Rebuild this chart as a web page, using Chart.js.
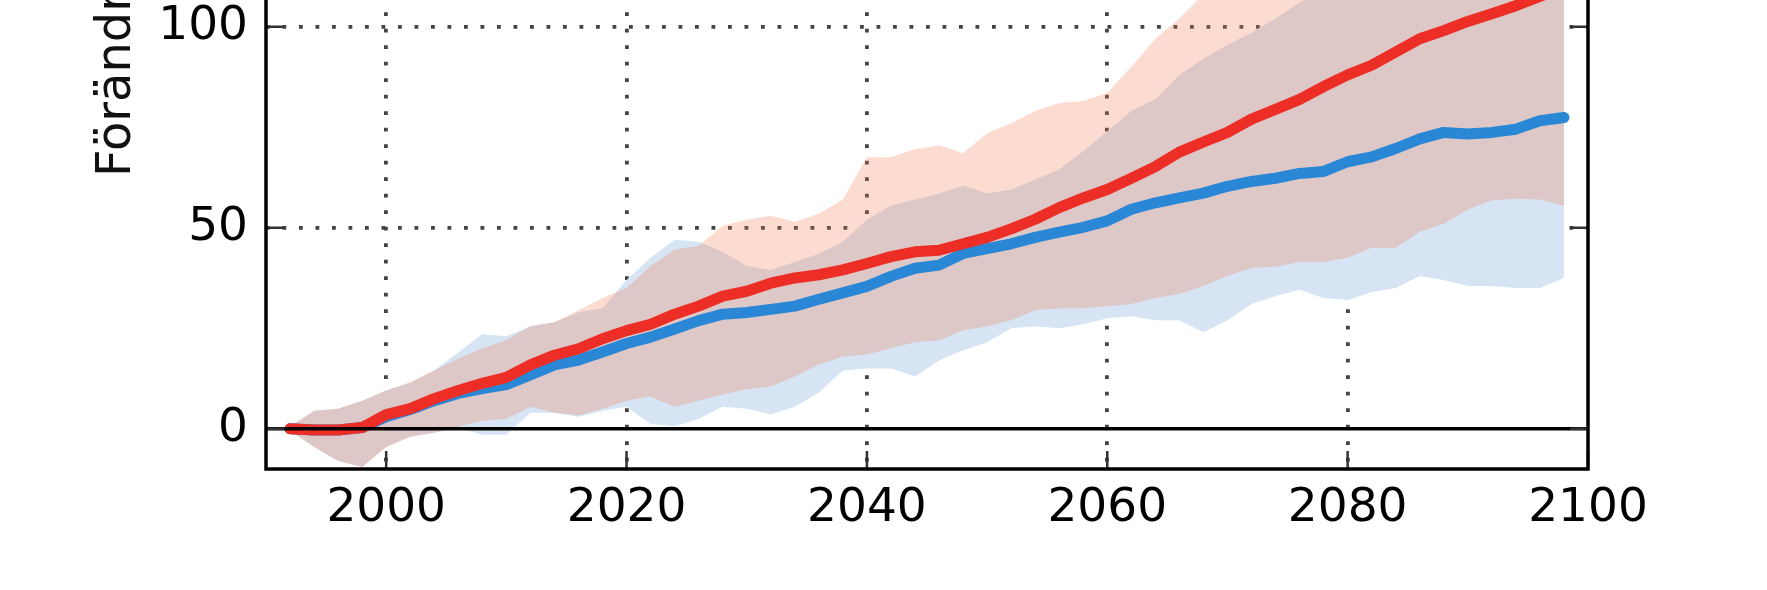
<!DOCTYPE html>
<html>
<head>
<meta charset="utf-8">
<script src="https://cdn.jsdelivr.net/npm/chart.js@4.4.1/dist/chart.umd.min.js"></script>
<style>
  html, body { margin: 0; padding: 0; background: #fff; overflow: hidden; }
  /* canvas sticker upp ovanfor fonstret, toppen av diagrammet syns inte */
  #wrap { position: absolute; left: 0; top: -100px; width: 1767px; height: 690px; }
</style>
</head>
<body>
<div id="wrap"><canvas id="grafik"></canvas></div>
<script>
// ar (vartannat ar)
const years = [1992, 1994, 1996, 1998, 2000, 2002, 2004, 2006, 2008, 2010,
  2012, 2014, 2016, 2018, 2020, 2022, 2024, 2026, 2028, 2030,
  2032, 2034, 2036, 2038, 2040, 2042, 2044, 2046, 2048, 2050,
  2052, 2054, 2056, 2058, 2060, 2062, 2064, 2066, 2068, 2070,
  2072, 2074, 2076, 2078, 2080, 2082, 2084, 2086, 2088, 2090,
  2092, 2094, 2096, 2098];

// roda scenariot
const redMean = [0, -0.3, -0.3, 0.3, 3.5, 5, 7.5, 9.5, 11.3, 12.8,
  15.9, 18.3, 19.9, 22.4, 24.4, 26, 28.5, 30.5, 33, 34.2,
  36.2, 37.5, 38.3, 39.5, 41.1, 42.8, 44, 44.4, 46, 47.6,
  49.7, 52.1, 55, 57.4, 59.5, 62.3, 65.2, 68.8, 71.3, 73.7,
  77, 79.4, 81.9, 85.1, 88, 90.4, 93.7, 97, 99, 101.3,
  103.2, 105.2, 107.5, 110];
const redLow = [-0.5, -4.5, -8, -9.5, -4.5, -2, -1, 0.5, 2, 2.5,
  5.5, 4, 3.3, 5, 7, 8, 5.5, 7, 8.5, 9.8,
  10.5, 13, 16, 18, 18.5, 20, 21.5, 22, 24.5, 25.5,
  27, 29.5, 30, 30, 30.5, 31, 32.5, 33.5, 35.5, 38,
  40, 40.3, 41.5, 41.5, 42.5, 45, 45, 49, 51, 54.5,
  56.8, 57.2, 57, 55.4];
const redHigh = [0.5, 4.5, 5, 7, 9.5, 11.5, 14.5, 17.5, 20, 22,
  25.5, 26.5, 29.5, 32.5, 35, 40.5, 44.5, 45.5, 50.5, 52,
  53, 51.5, 53.5, 57, 67.5, 67.5, 69.5, 70.5, 68.5, 73.5,
  76, 79, 81, 81.5, 83.5, 90, 97, 102, 108, 112,
  116, 120, 124, 127, 130, 133, 136, 139, 142, 145,
  148, 151, 154, 157];

// bla scenariot
const blueMean = [0, -0.3, -0.3, 0.3, 3, 4.8, 7, 8.8, 10, 11,
  13.4, 15.9, 17.1, 19.1, 21.2, 22.8, 24.8, 26.9, 28.5, 28.9,
  29.7, 30.5, 32.2, 33.8, 35.4, 37.9, 39.9, 40.7, 43.6, 44.8,
  46, 47.6, 48.9, 50.1, 51.7, 54.6, 56.2, 57.4, 58.6, 60.3,
  61.5, 62.3, 63.5, 64, 66.4, 67.6, 69.7, 72.1, 73.7, 73.3,
  73.7, 74.5, 76.6, 77.4];
const blueLow = [-0.5, -4.5, -8, -9.5, -4.5, -2, -1, 0.3, -1.5, -1.5,
  4, 4, 3, 4.5, 5.5, 1.2, 0.6, 2.5, 5.5, 5,
  3.6, 5.5, 9, 14.5, 15, 15, 13, 17, 19.5, 21.5,
  25, 25.5, 25, 26, 27.5, 28, 27, 27, 24, 27,
  31, 33, 34.6, 32.5, 32, 34, 35, 38, 37, 35.5,
  35.5, 35, 35, 37.5];
const blueHigh = [0.5, 4.5, 5, 7, 9.5, 11.5, 14.5, 19, 23.5, 23,
  25.5, 26.5, 29, 30, 37, 42.5, 47, 46.5, 44, 40.5,
  39.5, 41.5, 43.5, 46.5, 52, 55.5, 57, 58.5, 60.5, 58.5,
  59.5, 62, 64.5, 69, 74, 79, 82, 88, 92, 95.5,
  98.5, 102, 106, 109, 112, 114, 116, 118, 120, 122,
  124, 126, 128, 130];

const xTicks = [2000, 2020, 2040, 2060, 2080, 2100];
const yTicks = [0, 50, 100];
const yTitle = 'Förändring (%)';

const RED = '#ec2e26';
const BLUE = '#2a87d6';

function pts(vals) {
    return years.map((yr, i) => ({x: yr, y: vals[i]}));
}

// ram, nollinje, inatriktade streck och y-titel
const framePlugin = {
    id: 'frame',
    afterDatasetsDraw(chart) {
        const {ctx, chartArea: a, scales: {y}} = chart;
        const y0 = y.getPixelForValue(0);
        ctx.save();
        ctx.strokeStyle = '#000';
        ctx.lineWidth = 3.5;
        ctx.beginPath();
        ctx.moveTo(a.left, y0);
        ctx.lineTo(a.right, y0);
        ctx.stroke();
        ctx.restore();
    },
    afterDraw(chart) {
        const {ctx, chartArea: a, scales: {x, y}} = chart;
        const len = 18;
        ctx.save();
        ctx.strokeStyle = '#333';
        ctx.lineWidth = 2.5;
        ctx.beginPath();
        xTicks.forEach(v => {
            const px = x.getPixelForValue(v);
            ctx.moveTo(px, a.bottom); ctx.lineTo(px, a.bottom - len);
            ctx.moveTo(px, a.top); ctx.lineTo(px, a.top + len);
        });
        yTicks.forEach(v => {
            const py = y.getPixelForValue(v);
            ctx.moveTo(a.left, py); ctx.lineTo(a.left + len, py);
            ctx.moveTo(a.right, py); ctx.lineTo(a.right - len, py);
        });
        ctx.stroke();

        ctx.strokeStyle = '#000';
        ctx.lineWidth = 3.5;
        ctx.strokeRect(a.left, a.top, a.right - a.left, a.bottom - a.top);

        ctx.translate(130, 277);
        ctx.rotate(-Math.PI / 2);
        ctx.font = '48px "DejaVu Sans"';
        ctx.fillStyle = '#111';
        ctx.textAlign = 'left';
        ctx.textBaseline = 'alphabetic';
        ctx.fillText(yTitle, 0, 0);
        ctx.restore();
    }
};

Chart.defaults.font.family = '"DejaVu Sans", sans-serif';

const ctx = document.getElementById('grafik').getContext('2d');
const chart = new Chart(ctx, {
    type: 'line',
    data: {
        datasets: [
            {label: 'Röd medel', data: pts(redMean), borderColor: RED, borderWidth: 11,
             borderCapStyle: 'round', borderJoinStyle: 'round', pointRadius: 0, fill: false},
            {label: 'Blå medel', data: pts(blueMean), borderColor: BLUE, borderWidth: 11,
             borderCapStyle: 'round', borderJoinStyle: 'round', pointRadius: 0, fill: false},
            {label: 'Röd min', data: pts(redLow), borderWidth: 0, borderColor: 'rgba(0,0,0,0)',
             pointRadius: 0, fill: false},
            {label: 'Röd max', data: pts(redHigh), borderWidth: 0, borderColor: 'rgba(0,0,0,0)',
             pointRadius: 0, fill: '-1', backgroundColor: 'rgba(244,125,81,0.27)'},
            {label: 'Blå min', data: pts(blueLow), borderWidth: 0, borderColor: 'rgba(0,0,0,0)',
             pointRadius: 0, fill: false},
            {label: 'Blå max', data: pts(blueHigh), borderWidth: 0, borderColor: 'rgba(0,0,0,0)',
             pointRadius: 0, fill: '-1', backgroundColor: '#d6e4f3'}
        ]
    },
    options: {
        responsive: true,
        maintainAspectRatio: false,
        devicePixelRatio: 1,
        animation: false,
        layout: {padding: {top: 37, right: 179, left: 0, bottom: 0}},
        plugins: {legend: {display: false}, tooltip: {enabled: false}},
        scales: {
            x: {
                type: 'linear', min: 1990, max: 2100, z: 1,
                afterBuildTicks: s => { s.ticks = xTicks.map(v => ({value: v})); },
                afterFit: s => { s.height = 121; },
                grid: {
                    color: c => (c.tick && c.tick.value === 2100) ? 'rgba(0,0,0,0)' : '#444',
                    lineWidth: 3.8, drawTicks: false
                },
                border: {display: false, dash: [3.8, 12.7]},
                ticks: {color: '#000', font: {size: 47}, padding: 12, maxRotation: 0,
                        autoSkip: false, callback: v => String(v)}
            },
            y: {
                min: -10, max: 120, z: 1,
                afterBuildTicks: s => { s.ticks = yTicks.map(v => ({value: v})); },
                afterFit: s => { s.width = 266; },
                grid: {
                    color: c => (c.tick && c.tick.value === 0) ? 'rgba(0,0,0,0)' : '#444',
                    lineWidth: 3.8, drawTicks: false
                },
                border: {display: false, dash: [3.8, 12.7]},
                ticks: {color: '#000', font: {size: 47}, padding: 18, callback: v => String(v)}
            }
        }
    },
    plugins: [framePlugin]
});
</script>
</body>
</html>
